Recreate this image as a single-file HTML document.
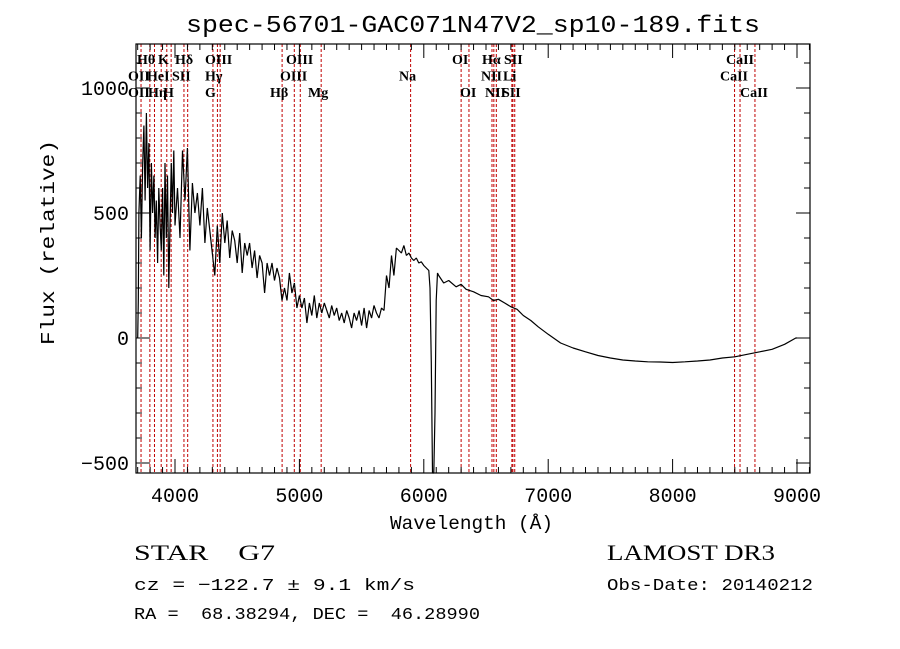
<!DOCTYPE html>
<html><head><meta charset="utf-8"><style>
body{margin:0;background:#fff;}
svg{display:block;}
text{font-family:"Liberation Serif",serif;fill:#000;white-space:pre;}
.m{font-family:"Liberation Mono",monospace;}
</style></head><body>
<svg id="chart" width="900" height="649" viewBox="0 0 900 649" xmlns="http://www.w3.org/2000/svg" xml:space="preserve">
<rect width="900" height="649" fill="#fff"/>
<text class="m" x="186" y="32" font-size="24" textLength="574" lengthAdjust="spacingAndGlyphs">spec-56701-GAC071N47V2_sp10-189.fits</text>
<g id="lines"></g>
<g id="labels"></g>
<g id="axes"></g>
<path id="spec" fill="none" stroke="#000" stroke-width="1.2" stroke-linejoin="bevel"/>
<text class="m" x="390" y="529" font-size="19" textLength="163" lengthAdjust="spacingAndGlyphs">Wavelength (Å)</text>
<text class="m" transform="translate(54,345) rotate(-90)" font-size="19" textLength="205" lengthAdjust="spacingAndGlyphs">Flux (relative)</text>
<text x="134" y="560" font-size="22" textLength="141" lengthAdjust="spacingAndGlyphs">STAR    G7</text>
<text class="m" x="134" y="590" font-size="17" textLength="281" lengthAdjust="spacingAndGlyphs">cz = −122.7 ± 9.1 km/s</text>
<text class="m" x="134" y="619" font-size="17" textLength="346" lengthAdjust="spacingAndGlyphs">RA =  68.38294, DEC =  46.28990</text>
<text x="607" y="560" font-size="22" textLength="168" lengthAdjust="spacingAndGlyphs">LAMOST DR3</text>
<text class="m" x="607" y="590" font-size="17" textLength="206" lengthAdjust="spacingAndGlyphs">Obs-Date: 20140212</text>
</svg>
<script>
const wave=[3700,3705,3710,3720,3730,3740,3750,3760,3770,3780,3790,3800,3810,3820,3830,3840,3850,3860,3870,3880,3890,3900,3910,3920,3930,3940,3950,3960,3970,3980,3990,4000,4020,4040,4060,4080,4100,4120,4140,4160,4180,4200,4220,4240,4260,4280,4300,4320,4340,4360,4380,4400,4420,4440,4460,4480,4500,4520,4540,4560,4580,4600,4620,4640,4660,4680,4700,4720,4740,4760,4780,4800,4820,4840,4860,4880,4900,4920,4940,4960,4980,5000,5020,5040,5060,5080,5100,5120,5140,5160,5180,5200,5220,5240,5260,5280,5300,5320,5340,5360,5380,5400,5420,5440,5460,5480,5500,5520,5540,5560,5580,5600,5620,5640,5660,5680,5700,5720,5740,5760,5780,5800,5820,5840,5860,5880,5900,5920,5940,5960,5980,6000,6020,6040,6050,6060,6070,6080,6090,6100,6110,6120,6160,6200,6260,6300,6340,6400,6460,6520,6560,6600,6650,6700,6750,6800,6860,6920,7000,7100,7200,7300,7400,7500,7600,7700,7800,7900,8000,8100,8200,8300,8400,8500,8600,8700,8800,8900,8990,9000];
const flux=[0,150,500,650,400,700,850,550,900,600,780,350,700,500,650,400,550,300,600,450,350,600,250,700,400,650,200,450,700,500,750,450,600,400,750,550,760,350,620,500,580,450,600,380,520,430,340,250,450,300,500,380,470,320,430,390,300,420,260,380,330,380,280,350,240,330,300,180,300,250,300,230,280,240,150,200,150,260,180,220,120,170,120,160,60,140,90,170,80,140,100,140,110,80,130,90,120,70,100,60,110,80,40,100,70,110,50,120,40,110,80,130,100,80,120,110,250,200,330,250,360,350,340,370,330,340,320,310,320,300,305,290,280,270,200,-100,-550,-540,-300,150,260,250,220,230,205,215,195,185,170,165,150,155,140,125,115,90,70,45,15,-20,-40,-55,-70,-80,-88,-92,-95,-96,-98,-95,-92,-88,-80,-75,-65,-55,-45,-25,0,0];
const lineWaves=[3727,3798,3835,3889,3934,3969,4072,4102,4305,4341,4363,4861,4959,5007,5175,5894,6300,6363,6548,6563,6583,6708,6716,6731,8498,8542,8662];
const labelText=["Hθ","K","Hδ","OIII","OIII","OII","HeI","SII","Hγ","OIII","Na","NII","Li","CaII","OII","Hη","H","G","Hβ","Mg","OI","OI","Hα","SII","CaII","NII","SII","CaII"];
const labelX=[137,158,175,205,286,128,147,172,205,280,399,481,503,720,128,148,163,205,270,308,452,460,482,504,726,485,502,740];
const labelRow=[0,0,0,0,0,1,1,1,1,1,1,1,1,1,2,2,2,2,2,2,0,2,0,0,0,2,2,2];
const xTicks=[4000,5000,6000,7000,8000,9000];
const yTicks=[-500,0,500,1000];
const L=136,R=810,T=44,B=473;
const X=w=>175+(w-4000)*0.1244;
const Y=f=>338-f*0.25;
const NS="http://www.w3.org/2000/svg";
function mk(tag,attrs,parent){const e=document.createElementNS(NS,tag);for(const k in attrs)e.setAttribute(k,attrs[k]);parent.appendChild(e);return e;}
const lg=document.getElementById('lines');
lineWaves.forEach(w=>{const l=mk('line',{x1:X(w),x2:X(w),y1:T,y2:B,stroke:'#c00000','stroke-width':1,'stroke-dasharray':'3,2'},lg);

});
const lb=document.getElementById('labels');
labelText.forEach((t,i)=>{const e=mk('text',{x:labelX[i],y:64+labelRow[i]*16.5,'font-size':14,'font-weight':'bold'},lb);e.textContent=t;

});
const ax=document.getElementById('axes');
const fr=mk('rect',{x:L,y:T,width:R-L,height:B-T,fill:'none',stroke:'#000','stroke-width':1.2},ax);


for(let w=3700;w<=9100;w+=100){const maj=w%1000===0;const h=maj?14:6;
mk('line',{x1:X(w),x2:X(w),y1:B,y2:B-h,stroke:'#000'},ax);mk('line',{x1:X(w),x2:X(w),y1:T,y2:T+h,stroke:'#000'},ax);}
for(let f=-500;f<=1100;f+=100){const maj=f%500===0;const h=maj?14:6;
mk('line',{x1:L,x2:L+h,y1:Y(f),y2:Y(f),stroke:'#000'},ax);mk('line',{x1:R,x2:R-h,y1:Y(f),y2:Y(f),stroke:'#000'},ax);}
xTicks.forEach(w=>{const t=mk('text',{x:X(w),y:502,'font-size':20,'text-anchor':'middle',class:'m'},ax);t.textContent=w;

});
yTicks.forEach(f=>{const t=mk('text',{x:129,y:Y(f)+7,'font-size':20,'text-anchor':'end',class:'m'},ax);t.textContent=f<0?'−'+(-f):f;

});
let d='';wave.forEach((w,i)=>{const y=Math.min(B,Math.max(T,Y(flux[i])));d+=(i?'L':'M')+X(w).toFixed(1)+','+y.toFixed(1);});
document.getElementById('spec').setAttribute('d',d);
</script>
</body></html>
